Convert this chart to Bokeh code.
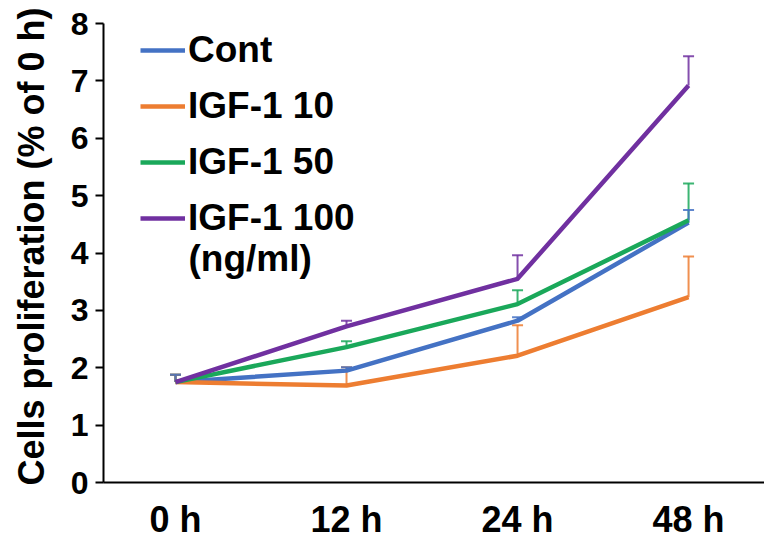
from bokeh.plotting import figure
from bokeh.models import (Range1d, FixedTicker, Legend, LegendItem, Whisker,
                          TeeHead, ColumnDataSource, Label)
from bokeh.embed import file_html
from bokeh.resources import INLINE

# time points and group means / upper error (SEM)
timepoints = ["0 h", "12 h", "24 h", "48 h"]
x_pos = [0, 1, 2, 3]

cont = [1.75, 1.95, 2.82, 4.53]
cont_err = [0.13, 0.06, 0.06, 0.22]
igf10 = [1.75, 1.69, 2.21, 3.23]
igf10_err = [0.13, 0.32, 0.53, 0.71]
igf50 = [1.75, 2.36, 3.11, 4.57]
igf50_err = [0.13, 0.10, 0.24, 0.64]
igf100 = [1.75, 2.72, 3.55, 6.92]
igf100_err = [0.13, 0.10, 0.41, 0.51]

series_names = ["Cont", "IGF-1 10", "IGF-1 50", "IGF-1 100"]
unit_note = "(ng/ml)"
colors = ["#4472C4", "#ED7D31", "#1AA85A", "#7030A0"]
y_ticks = [0, 1, 2, 3, 4, 5, 6, 7, 8]

FONT = "Liberation Sans"

p = figure(width=764, height=542, output_backend="svg", toolbar_location=None,
           x_range=Range1d(-0.421, 3.444), y_range=Range1d(0, 8.227),
           min_border_left=103, min_border_right=0,
           min_border_top=10, min_border_bottom=60)
p.outline_line_color = None
p.grid.visible = False
p.background_fill_color = "white"

means = [cont, igf10, igf50, igf100]
errs = [cont_err, igf10_err, igf50_err, igf100_err]

# error bars (upper only), drawn beneath the lines
for m, e, c in reversed(list(zip(means, errs, colors))):
    src = ColumnDataSource(dict(x=x_pos, lo=m, hi=[a + b for a, b in zip(m, e)]))
    w = Whisker(source=src, base="x", lower="lo", upper="hi",
                line_color=c, line_width=2, line_alpha=0.85,
                lower_head=None,
                upper_head=TeeHead(size=11, line_color=c, line_width=2, line_alpha=0.85))
    p.add_layout(w)

renderers = []
for m, c in zip(means, colors):
    r = p.line(x_pos, m, line_color=c, line_width=4.5, line_join="round")
    renderers.append(r)

items = [LegendItem(label=n, renderers=[r]) for n, r in zip(series_names, renderers)]
legend = Legend(items=items, location=(37, 242), padding=0, margin=0,
                border_line_color=None, background_fill_alpha=0,
                label_text_font=FONT, label_text_font_style="bold",
                label_text_font_size="37px", label_text_color="black",
                glyph_width=45, glyph_height=44, label_height=44,
                label_standoff=3, spacing=12)
p.add_layout(legend)

# concentration unit, under the last legend entry
p.add_layout(Label(x=0.076, y=3.90, text=unit_note, text_font=FONT,
                   text_font_style="bold", text_font_size="37px",
                   text_color="black", text_baseline="middle", text_align="left"))

# y axis
ya = p.yaxis[0]
ya.ticker = FixedTicker(ticks=y_ticks)
ya.bounds = (0, 8)
ya.axis_line_width = 2
ya.major_tick_line_width = 2
ya.major_tick_out = 8
ya.major_tick_in = 0
ya.minor_tick_line_color = None
ya.major_label_text_font = FONT
ya.major_label_text_font_style = "bold"
ya.major_label_text_font_size = "32px"
ya.major_label_text_color = "black"
ya.major_label_standoff = 7
ya.axis_label = "Cells proliferation (% of 0 h)"
ya.axis_label_text_font = FONT
ya.axis_label_text_font_style = "bold"
ya.axis_label_text_font_size = "36px"
ya.axis_label_text_color = "black"
ya.axis_label_standoff = 16

# x axis
xa = p.xaxis[0]
xa.ticker = FixedTicker(ticks=x_pos)
xa.major_label_overrides = {i: t for i, t in zip(x_pos, timepoints)}
xa.axis_line_width = 2
xa.major_tick_line_color = None
xa.major_tick_out = 0
xa.minor_tick_line_color = None
xa.major_label_text_font = FONT
xa.major_label_text_font_style = "bold"
xa.major_label_text_font_size = "36px"
xa.major_label_text_color = "black"
xa.major_label_standoff = 16

open("out.html", "w").write(file_html(p, INLINE))
